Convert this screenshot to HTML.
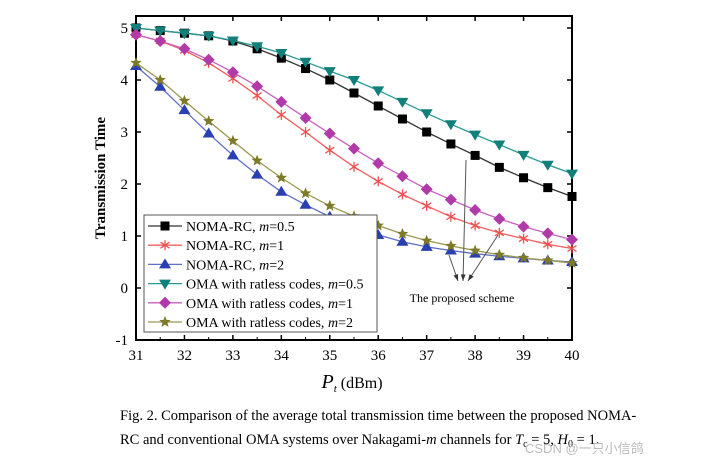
<!DOCTYPE html>
<html><head><meta charset="utf-8"><style>
body{margin:0;background:#fff;}
svg{display:block;font-family:"Liberation Serif",serif;}
</style></head><body>
<svg width="712" height="465">
<g id="plot"></g>
<text x="120" y="420" font-size="14.5">Fig. 2. Comparison of the average total transmission time between the proposed NOMA-</text>
<text x="120" y="444" font-size="14.5">RC and conventional OMA systems over Nakagami-<tspan font-style="italic">m</tspan> channels for <tspan font-style="italic">T</tspan><tspan font-size="10" dy="3">c</tspan><tspan dy="-3"> = 5, </tspan><tspan font-style="italic">H</tspan><tspan font-size="10" dy="3">0</tspan><tspan dy="-3"> = 1.</tspan></text>
<text x="525" y="453" font-size="13" fill="#bbb" font-family="Liberation Sans,Noto Sans CJK SC,sans-serif">CSDN @一只小信鸽</text>
</svg>
<script>
const xVals=[31,31.5,32,32.5,33,33.5,34,34.5,35,35.5,36,36.5,37,37.5,38,38.5,39,39.5,40];
const nomaM05=[5,4.95,4.9,4.85,4.75,4.6,4.42,4.22,4.0,3.75,3.5,3.25,3.0,2.77,2.55,2.32,2.12,1.93,1.76];
const nomaM1=[4.87,4.75,4.57,4.33,4.03,3.7,3.33,3.0,2.65,2.33,2.05,1.8,1.58,1.37,1.2,1.06,0.95,0.84,0.76];
const nomaM2=[4.27,3.87,3.42,2.97,2.55,2.18,1.85,1.6,1.37,1.17,1.02,0.89,0.79,0.72,0.66,0.61,0.57,0.53,0.5];
const omaM05=[5,4.95,4.9,4.85,4.76,4.65,4.52,4.35,4.17,4.0,3.8,3.58,3.36,3.15,2.95,2.76,2.56,2.37,2.2];
const omaM1=[4.87,4.75,4.6,4.39,4.15,3.88,3.58,3.27,2.97,2.68,2.4,2.15,1.9,1.7,1.5,1.33,1.18,1.05,0.93];
const omaM2=[4.33,4.0,3.6,3.21,2.83,2.45,2.12,1.82,1.58,1.38,1.2,1.04,0.91,0.81,0.72,0.64,0.58,0.53,0.48];
const xTicks=[31,32,33,34,35,36,37,38,39,40];
const yTicks=[-1,0,1,2,3,4,5];
const NS='http://www.w3.org/2000/svg';
const L=136,R=572,T=16,B=340;
const xs=v=>L+(v-31)/9*(R-L);
const ys=v=>288-v*52;
const g=document.getElementById('plot');
function mk(t,a,p){const e=document.createElementNS(NS,t);for(const k in a)e.setAttribute(k,a[k]);(p||g).appendChild(e);return e;}
// axes box
let e=mk('rect',{x:L,y:T,width:R-L,height:B-T,fill:'none',stroke:'#000','stroke-width':2});


xTicks.forEach(v=>{
 mk('line',{x1:xs(v),x2:xs(v),y1:B,y2:B-5,stroke:'#000','stroke-width':1.5});
 mk('line',{x1:xs(v),x2:xs(v),y1:T,y2:T+5,stroke:'#000','stroke-width':1.5});
 if(v<40){mk('line',{x1:xs(v+0.5),x2:xs(v+0.5),y1:B,y2:B-3,stroke:'#000'});}
 const t=mk('text',{x:xs(v),y:B+20,'font-size':15,'text-anchor':'middle'});t.textContent=v;
 
 
});
yTicks.forEach(v=>{
 mk('line',{x1:L,x2:L+5,y1:ys(v),y2:ys(v),stroke:'#000','stroke-width':1.5});
 mk('line',{x1:R,x2:R-5,y1:ys(v),y2:ys(v),stroke:'#000','stroke-width':1.5});
 const t=mk('text',{x:L-8,y:ys(v)+5,'font-size':15,'text-anchor':'end'});t.textContent=v;
 
 
});
let yl=mk('text',{transform:'translate(105,178) rotate(-90)','font-size':15,'text-anchor':'middle','font-weight':'bold'});yl.textContent='Transmission Time';


let xl=mk('text',{x:352,y:388,'font-size':16,'text-anchor':'middle'});
xl.innerHTML='<tspan font-style="italic" font-size="20">P</tspan><tspan font-size="11" font-style="italic" dy="4">t</tspan><tspan dy="-4"> (dBm)</tspan>';


function marker(type,x,y,c,p){
 if(type==='sq')return mk('rect',{x:x-4.5,y:y-4.5,width:9,height:9,fill:c},p);
 if(type==='tu')return mk('polygon',{points:`${x},${y-6} ${x-6},${y+4} ${x+6},${y+4}`,fill:c},p);
 if(type==='td')return mk('polygon',{points:`${x},${y+6} ${x-6},${y-4} ${x+6},${y-4}`,fill:c},p);
 if(type==='di')return mk('polygon',{points:`${x},${y-6} ${x+6},${y} ${x},${y+6} ${x-6},${y}`,fill:c},p);
 if(type==='ast'){const s=mk('g',{stroke:c,'stroke-width':1.3},p);[[0,-5,0,5],[-4.5,-3,4.5,3],[-4.5,3,4.5,-3]].forEach(q=>mk('line',{x1:x+q[0],y1:y+q[1],x2:x+q[2],y2:y+q[3]},s));return s;}
 if(type==='star'){let pts=[];for(let i=0;i<10;i++){const r=i%2?2.6:6,a=-Math.PI/2+i*Math.PI/5;pts.push((x+r*Math.cos(a)).toFixed(1)+','+(y+r*Math.sin(a)).toFixed(1));}return mk('polygon',{points:pts.join(' '),fill:c},p);}
}
const series=[
 {d:nomaM05,c:'#000',lc:'#333',m:'sq',n:'noma-m05',lab:'NOMA-RC, ',mv:'0.5'},
 {d:nomaM1,c:'#f05050',lc:'#f06060',m:'ast',n:'noma-m1',lab:'NOMA-RC, ',mv:'1'},
 {d:nomaM2,c:'#2a3fb0',lc:'#6070c8',m:'tu',n:'noma-m2',lab:'NOMA-RC, ',mv:'2'},
 {d:omaM05,c:'#117f7a',lc:'#2a9a95',m:'td',n:'oma-m05',lab:'OMA with ratless codes, ',mv:'0.5'},
 {d:omaM1,c:'#b03aa8',lc:'#c860c0',m:'di',n:'oma-m1',lab:'OMA with ratless codes, ',mv:'1'},
 {d:omaM2,c:'#7d7a2a',lc:'#9a9850',m:'star',n:'oma-m2',lab:'OMA with ratless codes, ',mv:'2'}
];
series.forEach(s=>{
 const sg=mk('g',{});
 
 
 mk('polyline',{points:s.d.map((v,i)=>xs(xVals[i])+','+ys(v)).join(' '),fill:'none',stroke:s.lc,'stroke-width':1.3},sg);
 s.d.forEach((v,i)=>{const mm=marker(s.m,xs(xVals[i]),ys(v),s.c,sg);
  
  });
});
// arrows
const ag=mk('g',{stroke:'#555','stroke-width':1});


[[449,255,458,281],[466,160,463,281],[498,235,468,281]].forEach(a=>{
 mk('line',{x1:a[0],y1:a[1],x2:a[2],y2:a[3]},ag);
 const ang=Math.atan2(a[3]-a[1],a[2]-a[0]);const h=7;
 mk('polygon',{points:`${a[2]},${a[3]} ${a[2]-h*Math.cos(ang-0.35)},${a[3]-h*Math.sin(ang-0.35)} ${a[2]-h*Math.cos(ang+0.35)},${a[3]-h*Math.sin(ang+0.35)}`,fill:'#333',stroke:'none'},ag);
});
let an=mk('text',{x:462,y:302,'font-size':12,'text-anchor':'middle'});an.textContent='The proposed scheme';


// legend
const lg=mk('g',{});


mk('rect',{x:144,y:215,width:233,height:117,fill:'#fff',stroke:'#555','stroke-width':1},lg);
series.forEach((s,i)=>{
 const y=226+i*19.2;
 const eg=mk('g',{},lg);
 
 
 mk('line',{x1:148,x2:182,y1:y,y2:y,stroke:s.lc,'stroke-width':1.3},eg);
 marker(s.m,165,y,s.c,eg);
 const t=mk('text',{x:186,y:y+5,'font-size':14},eg);
 t.innerHTML=s.lab+'<tspan font-style="italic">m</tspan>='+s.mv;
});
</script>
</body></html>
